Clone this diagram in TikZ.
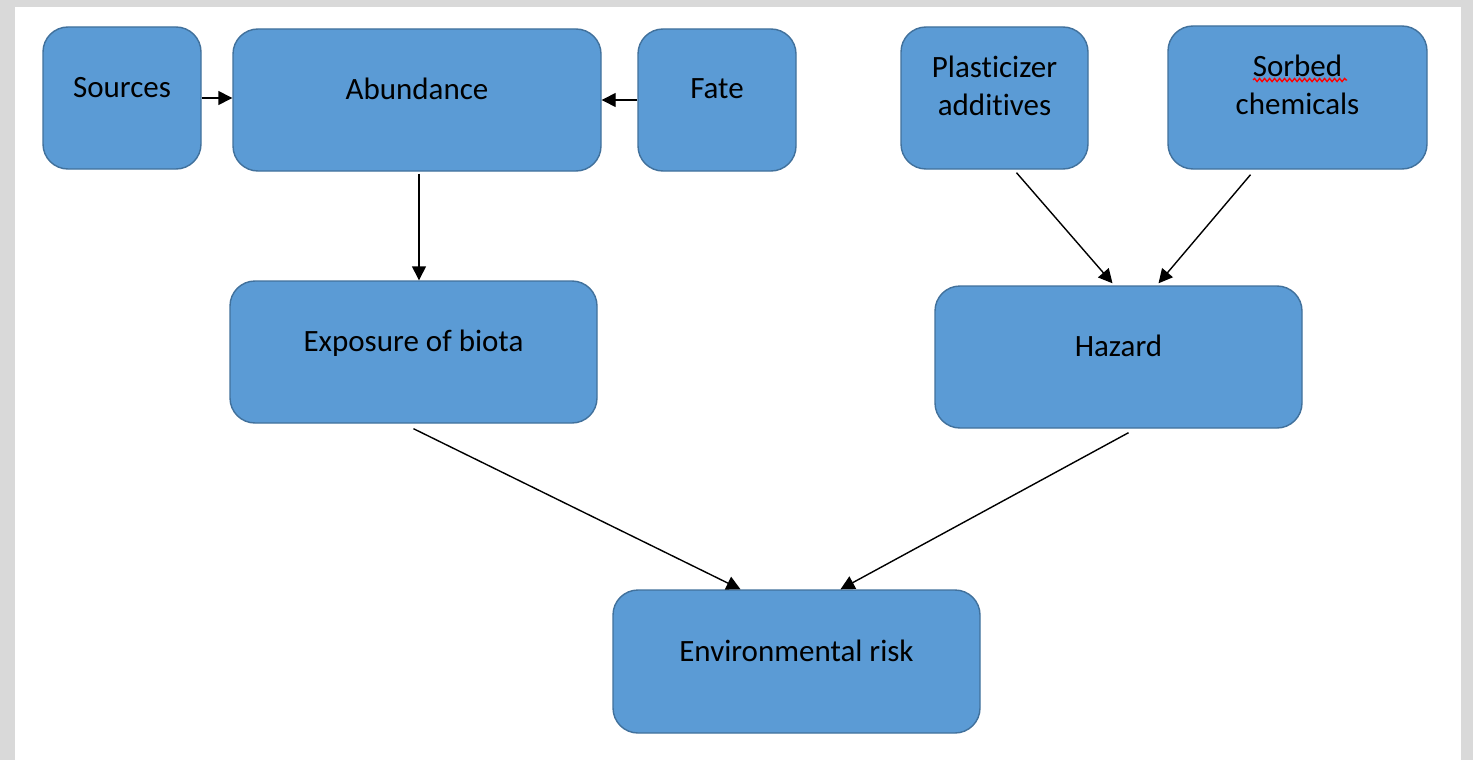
\documentclass[tikz,border=0pt]{standalone}
\usepackage{fontspec}
\setmainfont[Ligatures={NoCommon}]{Carlito}
\usetikzlibrary{arrows.meta,decorations.pathmorphing}
\begin{document}
\begin{tikzpicture}[x=1pt, y=-1pt,
  block/.style={draw=blockline, fill=blockfill, line width=1.4pt, rounded corners=25pt,
    minimum height=142pt, align=center, text depth=22pt, inner sep=0pt,
    font=\fontsize{31}{38}\selectfont},
  link/.style={-{Triangle[length=14pt,width=14pt]}, line width=1.4pt}]
\definecolor{blockfill}{HTML}{5B9BD5}
\definecolor{blockline}{HTML}{41719C}
\definecolor{frame}{HTML}{D9D9D9}
\fill[frame] (0,0) rectangle (1473,760);
\fill[white] (15,7) rectangle (1461,760);
\node[block, minimum width=158pt] (sources) at (122,98) {Sources};
\node[block, minimum width=368pt] (abundance) at (417,100) {Abundance};
\node[block, minimum width=158pt] (fate) at (717,100) {Fate};
\node[block, minimum width=187pt, text depth=25pt] (plasticizer) at (994.5,98) {Plasticizer\\additives};
\node[block, minimum width=259pt, minimum height=143pt, text depth=25pt] (sorbed) at (1297.5,97.5) {Sorbed\\chemicals};
\node[block, minimum width=367pt] (exposure) at (413.5,352) {Exposure of biota};
\node[block, minimum width=367pt] (hazard) at (1118.5,357) {Hazard};
\node[block, minimum width=367pt, minimum height=143pt] (risk) at (796.5,661.5) {Environmental risk};
\draw[red, line width=1.3pt, decorate, decoration={snake, amplitude=1.6pt, segment length=5pt}] (1253,80) -- (1347,80);
\draw[link] (sources.east) -- (sources.east -| abundance.west);
\draw[link] (fate.west) -- (fate.west -| abundance.east);
\draw[link] ([xshift=2pt,yshift=-2pt]abundance.south) -- ([xshift=2pt]abundance.south |- exposure.north);
\draw[link] ([xshift=22pt,yshift=-3pt]plasticizer.south) -- ([xshift=-6pt,yshift=2pt]hazard.north);
\draw[link] ([xshift=-47pt,yshift=-5pt]sorbed.south) -- ([xshift=40pt,yshift=2pt]hazard.north);
\draw[link] ([yshift=-5pt]exposure.south) -- ([xshift=-56pt]risk.north);
\draw[link] ([xshift=10pt,yshift=-4pt]hazard.south) -- ([xshift=44pt]risk.north);
\end{tikzpicture}
\end{document}
